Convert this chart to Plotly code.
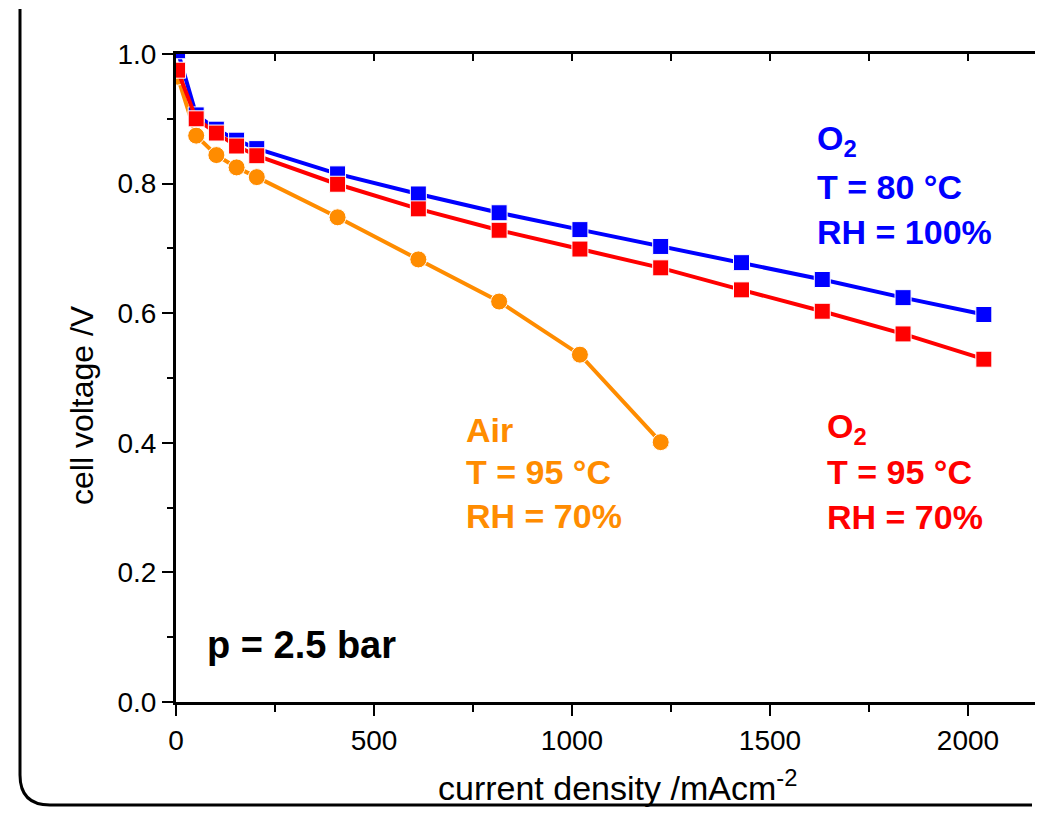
import plotly.graph_objects as go

# ---- data ----
current_density = [4, 51, 102, 153, 204, 408, 612, 816, 1020, 1224, 1428, 1632, 1836, 2040]
v_o2_80c_rh100 = [1.005, 0.906, 0.884, 0.867, 0.854, 0.815, 0.784, 0.755, 0.729, 0.703, 0.678, 0.652, 0.624, 0.598]
v_o2_95c_rh70 = [0.975, 0.900, 0.878, 0.858, 0.843, 0.799, 0.761, 0.728, 0.699, 0.670, 0.636, 0.603, 0.568, 0.529]
current_density_air = [4, 51, 102, 153, 204, 408, 612, 816, 1020, 1224]
v_air_95c_rh70 = [0.965, 0.874, 0.844, 0.825, 0.810, 0.748, 0.683, 0.618, 0.536, 0.401]

x_ticks = [0, 500, 1000, 1500, 2000]
y_ticks = [0.0, 0.2, 0.4, 0.6, 0.8, 1.0]

BLUE = "#0000FF"
RED = "#FF0000"
ORANGE = "#FF8C00"
FONT = "Liberation Sans, Arial, sans-serif"

# the page body has an 8px margin on every side: the figure starts at (8, 8)
OFF = 8
WIN_W, WIN_H = 1043, 815
W, H = WIN_W - 2 * OFF, WIN_H - 2 * OFF
# plot area in window pixels
L, T, B = 176, 54, 702
R = OFF + W           # right edge of the figure in window pixels
X_PER_PX = 500 / 198  # data units per pixel along x


def pxx(xp):
    return (xp - L) / (R - L)


def pxy(yp):
    return (B - yp) / (B - T)


fig = go.Figure()

fig.add_trace(go.Scatter(
    x=current_density_air, y=v_air_95c_rh70, mode="lines+markers",
    line=dict(color=ORANGE, width=4),
    marker=dict(symbol="circle", size=17, color=ORANGE, line=dict(color="white", width=1)),
    showlegend=False, hoverinfo="x+y"))
fig.add_trace(go.Scatter(
    x=current_density, y=v_o2_80c_rh100, mode="lines+markers",
    line=dict(color=BLUE, width=4),
    marker=dict(symbol="square", size=16, color=BLUE, line=dict(color="white", width=1)),
    showlegend=False, hoverinfo="x+y"))
fig.add_trace(go.Scatter(
    x=current_density, y=v_o2_95c_rh70, mode="lines+markers",
    line=dict(color=RED, width=4),
    marker=dict(symbol="square", size=16, color=RED, line=dict(color="white", width=1)),
    showlegend=False, hoverinfo="x+y"))
# invisible helper trace so the top mirror axis is drawn
fig.add_trace(go.Scatter(
    x=[current_density[0]], y=[v_o2_95c_rh70[0]], xaxis="x2", mode="markers",
    marker=dict(opacity=0), showlegend=False, hoverinfo="skip"))

xrange = [0, (R - L) * X_PER_PX]

fig.update_layout(
    width=W, height=H,
    margin=dict(l=L - OFF, r=0, t=T - OFF, b=(H + OFF) - B),
    paper_bgcolor="white", plot_bgcolor="white",
    font=dict(family=FONT, size=28, color="black"),
    xaxis=dict(
        range=xrange, showgrid=False, zeroline=False,
        showline=True, linecolor="black", linewidth=3,
        tickmode="array", tickvals=x_ticks, ticktext=[str(v) for v in x_ticks],
        ticks="outside", ticklen=11, tickwidth=2, tickcolor="black",
        minor=dict(dtick=250, tick0=0, ticks="outside", ticklen=7, tickwidth=2, tickcolor="black"),
        tickfont=dict(size=28),
    ),
    xaxis2=dict(
        range=xrange, overlaying="x", side="top", anchor="y",
        showgrid=False, zeroline=False,
        showline=True, linecolor="black", linewidth=3,
        tickmode="linear", tick0=0, dtick=250, showticklabels=False,
        ticks="inside", ticklen=7, tickwidth=2, tickcolor="black",
    ),
    yaxis=dict(
        range=[0, 1], showgrid=False, zeroline=False,
        showline=True, linecolor="black", linewidth=3,
        tickmode="array", tickvals=y_ticks, ticktext=[f"{v:.1f}" for v in y_ticks],
        ticks="outside", ticklen=11, tickwidth=2, tickcolor="black",
        minor=dict(dtick=0.1, tick0=0, ticks="outside", ticklen=6, tickwidth=2, tickcolor="black"),
        tickfont=dict(size=28),
    ),
)

annotations = []


def add_text(text, xp, yp, color, size=34, bold=True, xanchor="left", angle=0):
    annotations.append(dict(
        text=text, x=pxx(xp), y=pxy(yp), xref="paper", yref="paper",
        xanchor=xanchor, yanchor="middle", showarrow=False, textangle=angle,
        font=dict(family=FONT, size=size, color=color, weight="bold" if bold else "normal"),
    ))


# series labels
add_text("O<sub>2</sub>", 815, 140, BLUE)
add_text("T = 80 °C", 815, 187, BLUE)
add_text("RH = 100%", 815, 232, BLUE)

add_text("O<sub>2</sub>", 825, 428, RED)
add_text("T = 95 °C", 825, 472, RED)
add_text("RH = 70%", 825, 517, RED)

add_text("Air", 464, 430, ORANGE)
add_text("T = 95 °C", 464, 472, ORANGE)
add_text("RH = 70%", 464, 516, ORANGE)

add_text("p = 2.5 bar", 205, 645, "black", size=38)

# axis titles
add_text("current density /mAcm<sup>-2</sup>", 617, 786, "black", size=34, bold=False, xanchor="center")
add_text("cell voltage /V", 82, 405, "black", size=32, bold=False, xanchor="center", angle=-90)

fig.update_layout(annotations=annotations)

# rounded frame: left side, rounded bottom-left corner, bottom side (separate pieces)
x_l, x_r, y_t, y_b, r = 20, R - 3, OFF + 1, 805, 30
frame_line = dict(color="black", width=3)
fig.add_shape(type="line", xref="paper", yref="paper",
              x0=pxx(x_l), y0=pxy(y_t), x1=pxx(x_l), y1=pxy(y_b - r),
              line=frame_line, layer="above")
fig.add_shape(type="path", xref="paper", yref="paper",
              path=(f"M {pxx(x_l)} {pxy(y_b - r)} "
                    f"Q {pxx(x_l)} {pxy(y_b)} {pxx(x_l + r)} {pxy(y_b)}"),
              line=frame_line, fillcolor="rgba(0,0,0,0)", layer="above")
fig.add_shape(type="line", xref="paper", yref="paper",
              x0=pxx(x_l + r), y0=pxy(y_b), x1=pxx(x_r), y1=pxy(y_b),
              line=frame_line, layer="above")

fig.write_html("out.html")
